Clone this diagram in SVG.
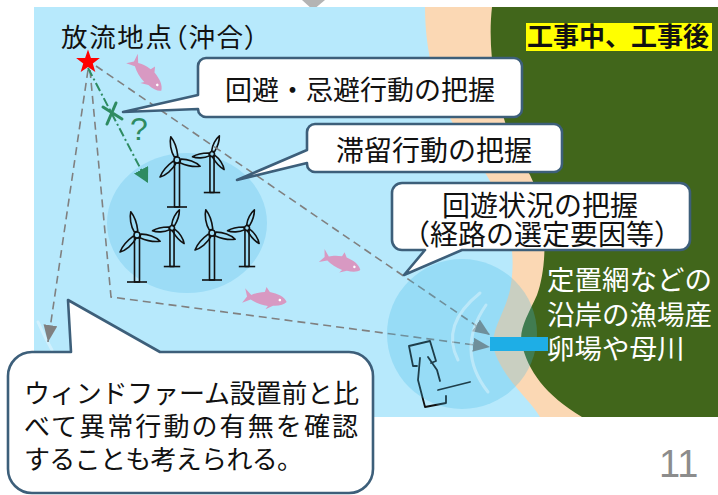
<svg xmlns="http://www.w3.org/2000/svg" width="718" height="495" viewBox="0 0 718 495">
<style>
  .jp{font-family:"Liberation Sans","Noto Sans CJK JP",sans-serif;fill:#111}
  .bubble{fill:#fff;stroke:#3d5f7a;stroke-width:2.6;stroke-linejoin:round}
  .dash{fill:none;stroke:#808080;stroke-width:1.6;stroke-dasharray:8 5}
  .tb{fill:none;stroke:#111;stroke-width:1.6;stroke-linejoin:round;vector-effect:non-scaling-stroke}
  .hub{fill:#9cdcf6;stroke:#111;stroke-width:1.6;vector-effect:non-scaling-stroke}
  .fish{fill:#d899c2}
  .icon{fill:none;stroke:#111;stroke-width:1.8;stroke-linejoin:round;stroke-linecap:round}
  .wave{fill:none;stroke:#fff;stroke-opacity:0.35;stroke-width:3;stroke-linecap:round}
</style>
<defs>
  <marker id="ah-gray" viewBox="0 0 17 14" refX="17" refY="7" markerWidth="17" markerHeight="14" markerUnits="userSpaceOnUse" orient="auto">
    <path d="M0,0 L17,7 L0,14 Z" fill="#808080"/>
  </marker>
  <marker id="ah-green" viewBox="0 0 15 16" refX="15" refY="8" markerWidth="15" markerHeight="16" markerUnits="userSpaceOnUse" orient="auto">
    <path d="M0,0 L15,8 L0,16 Z" fill="#2e8b62"/>
  </marker>
  <path id="blade" class="tb" d="M3.5,-1.8 C10,-3.8 19,-2.8 24,0 C19,2.2 10,2.8 3.5,1.8 Z"/>
  <g id="rotor">
    <use href="#blade" transform="rotate(-105)"/>
    <use href="#blade" transform="rotate(15)"/>
    <use href="#blade" transform="rotate(135)"/>
    <circle class="hub" r="3"/>
  </g>
  <g id="turbineA">
    <rect class="tb" x="-2.5" y="3" width="5" height="44"/>
    <line class="tb" x1="-10" y1="47" x2="10" y2="47"/>
    <use href="#rotor"/>
  </g>
  <g id="turbineB">
    <rect class="tb" x="-2.5" y="3" width="5" height="44"/>
    <line class="tb" x1="-10" y1="47" x2="10" y2="47"/>
    <use href="#rotor" transform="rotate(37)"/>
  </g>
  <g id="fishShape">
    <path class="fish" d="M22,1 C19,-4 12,-6 4,-6.5 L0,-11 L-1,-6 C-7,-5 -11,-3 -14,-1 L-21,-7 L-18,1 L-22,8 L-14,3.5 C-9,6 -3,7.5 4,7.5 L2,11 L9,6.5 C15,6 20,4 22,1 Z"/>
    <circle cx="15" cy="0" r="1.3" fill="#fff"/>
  </g>
</defs>

<!-- marker above the panel -->
<polygon points="302,0 325,0 313,10" fill="#b4b4b4"/>

<!-- sea and coast -->
<g id="map">
  <rect x="34" y="7" width="684" height="410" fill="#b7e9fc"/>
  <path d="M425,7 C425,60 440,110 470,150 C500,190 520,240 510,290 C503,320 485,335 498,360 C510,385 530,400 540,417 H718 V7 Z" fill="#fbd8b4"/>
  <path d="M492,7 C486,60 500,130 530,175 C548,210 548,265 537,295 C528,315 518,330 522,345 C528,370 545,395 582,417 H718 V7 Z" fill="#41661b"/>
  <path class="wave" d="M38,322 Q44,336 52,350"/>
</g>

<!-- wind farm -->
<g id="windfarm">
  <ellipse cx="187" cy="223" rx="80" ry="70" fill="#9cdcf6"/>
  <use href="#turbineA" transform="translate(177,160)"/>
  <use href="#turbineB" transform="translate(212,154) scale(0.82)"/>
  <use href="#turbineA" transform="translate(137,235)"/>
  <use href="#turbineB" transform="translate(172,228) scale(0.82)"/>
  <use href="#turbineA" transform="translate(212,233)"/>
  <use href="#turbineB" transform="translate(247,228) scale(0.82)"/>
</g>

<!-- fish -->
<g id="fish">
  <use href="#fishShape" transform="translate(147,74) rotate(47)"/>
  <use href="#fishShape" transform="translate(341,262) rotate(20) scale(0.95)"/>
  <use href="#fishShape" transform="translate(265,298) rotate(8)"/>
</g>

<!-- release point -->
<g id="release-point">
  <path d="M88,49.5 L90.9,58 L99.9,58.1 L92.8,63.5 L95.3,72.1 L88,67 L80.7,72.1 L83.2,63.5 L76.1,58.1 L85.1,58 Z" fill="#ff0000"/>
  <text class="jp" x="61" y="47" font-size="26.5" textLength="197" style="font-feature-settings:'palt'">放流地点（沖合）</text>
</g>

<!-- tracks -->
<g id="connectors">
  <path class="dash" d="M96,66 L490,335" marker-end="url(#ah-gray)"/>
  <path class="dash" d="M88,70 L48,342" marker-end="url(#ah-gray)"/>
  <path class="dash" d="M90,70 L111,297 L490,347" marker-end="url(#ah-gray)"/>
  <path d="M88,68 L148,183" fill="none" stroke="#2e8b62" stroke-width="2" stroke-dasharray="9 3 2 3" marker-end="url(#ah-green)"/>
  <path d="M103,107 L122,119 M116,103 L107,124" fill="none" stroke="#2e8b62" stroke-width="3" stroke-linecap="round"/>
  <text x="139" y="140" font-family="Liberation Sans, sans-serif" font-size="32" fill="#2e8b62" text-anchor="middle">?</text>
</g>

<!-- receiver station -->
<g id="receiver">
  <polyline class="icon" points="417,366 413,366 409,346 430,341 436,361 431,363"/>
  <polyline class="icon" points="420,358 418,380 425,407 446,403 446,396"/>
  <polyline class="icon" points="428,357 437,370 440,381"/>
  <polyline class="icon" points="438,390 470,382"/>
  <circle cx="462" cy="334" r="75" fill="#44bae4" fill-opacity="0.27"/>
  <path class="wave" d="M480,293 Q440,325 458,360"/>
  <path class="wave" d="M486,305 Q455,350 488,392"/>
  <rect x="490" y="337" width="58" height="14" fill="#1eaee6"/>
</g>

<!-- period label -->
<g id="period">
  <rect x="526" y="23" width="186" height="28" fill="#ffff00"/>
  <text class="jp" x="527" y="46" font-size="26" font-weight="bold">工事中、工事後</text>
</g>

<!-- coast label -->
<g id="coast-label" class="jp" font-size="27.5" style="fill:#fff">
  <text x="547" y="290">定置網などの</text>
  <text x="547" y="325">沿岸の漁場産</text>
  <text x="547" y="359">卵場や母川</text>
</g>

<!-- callouts -->
<g id="callout-avoid">
  <path class="bubble" d="M206,58 H514 A8,8 0 0 1 522,66 V109 A8,8 0 0 1 514,117 H206 A8,8 0 0 1 198,109 L123,112 L198,95 V66 A8,8 0 0 1 206,58 Z"/>
  <text class="jp" x="360" y="100" font-size="27" text-anchor="middle">回避・忌避行動の把握</text>
</g>
<g id="callout-stay">
  <path class="bubble" d="M315,124 H554 A8,8 0 0 1 562,132 V164 A8,8 0 0 1 554,172 H315 A8,8 0 0 1 307,164 V163 L237,180 L307,150 V132 A8,8 0 0 1 315,124 Z"/>
  <text class="jp" x="434" y="161" font-size="28" text-anchor="middle">滞留行動の把握</text>
</g>
<g id="callout-route">
  <path class="bubble" d="M402,183 H680 A10,10 0 0 1 690,193 V240 A10,10 0 0 1 680,250 H462 L404,275 L425,250 H402 A10,10 0 0 1 392,240 V193 A10,10 0 0 1 402,183 Z"/>
  <text class="jp" x="540" y="216" font-size="28" text-anchor="middle">回遊状況の把握</text>
  <text class="jp" x="542" y="245" font-size="28" text-anchor="middle">（経路の選定要因等）</text>
</g>
<g id="callout-compare">
  <path class="bubble" d="M32,352 H71 L68,300 L160,352 H349 A24,24 0 0 1 373,376 V469 A24,24 0 0 1 349,493 H32 A24,24 0 0 1 8,469 V376 A24,24 0 0 1 32,352 Z"/>
  <text class="jp" x="24" y="403" font-size="26" textLength="335">ウィンドファーム設置前と比</text>
  <text class="jp" x="24" y="436" font-size="26" textLength="334">べて異常行動の有無を確認</text>
  <text class="jp" x="24" y="469" font-size="26" textLength="279">することも考えられる。</text>
</g>

<!-- page number -->
<text x="659" y="477" font-family="Liberation Sans, sans-serif" font-size="38" fill="#8c8c8c">11</text>
</svg>
